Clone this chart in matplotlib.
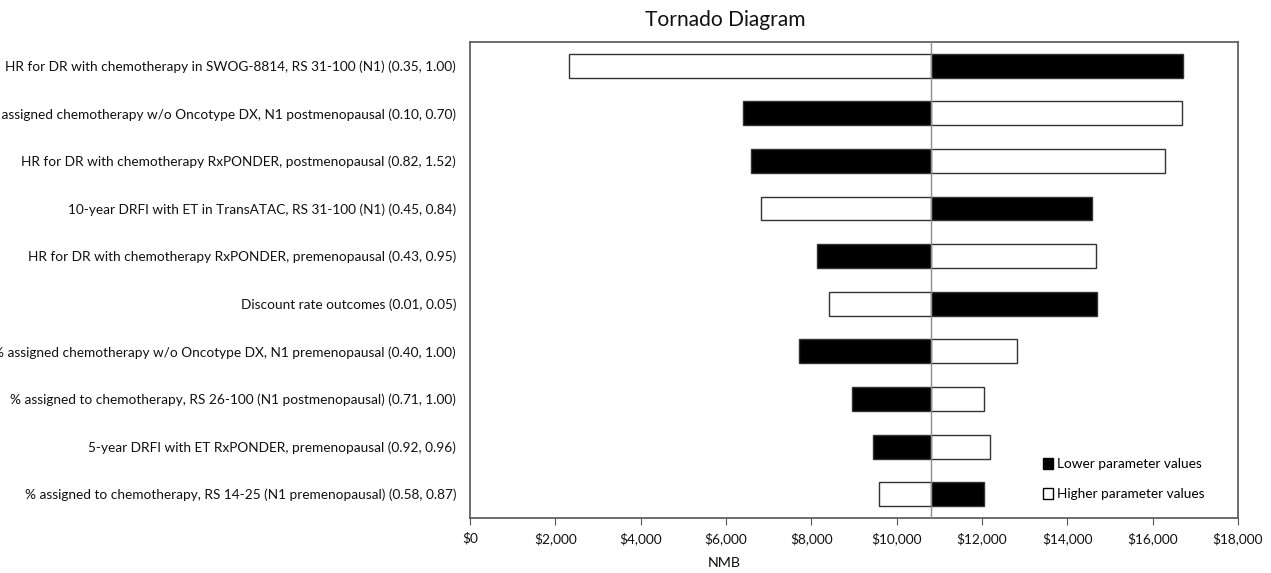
import matplotlib
matplotlib.use("Agg")
import matplotlib.pyplot as plt
from matplotlib.patches import Patch
import numpy as np

# Parameters (top to bottom) with their tested ranges
parameters = [
    "HR for DR with chemotherapy in SWOG-8814, RS 31-100 (N1) (0.35, 1.00)",
    "% assigned chemotherapy w/o Oncotype DX, N1 postmenopausal (0.10, 0.70)",
    "HR for DR with chemotherapy RxPONDER, postmenopausal (0.82, 1.52)",
    "10-year DRFI with ET in TransATAC, RS 31-100 (N1) (0.45, 0.84)",
    "HR for DR with chemotherapy RxPONDER, premenopausal (0.43, 0.95)",
    "Discount rate outcomes (0.01, 0.05)",
    "% assigned chemotherapy w/o Oncotype DX, N1 premenopausal (0.40, 1.00)",
    "% assigned to chemotherapy, RS 26-100 (N1 postmenopausal) (0.71, 1.00)",
    "5-year DRFI with ET RxPONDER, premenopausal (0.92, 0.96)",
    "% assigned to chemotherapy, RS 14-25 (N1 premenopausal) (0.58, 0.87)",
]

# Net monetary benefit at the lower / higher parameter value
nmb_low = [16710, 6410, 6590, 14580, 8140, 14690, 7710, 8960, 9440, 12040]
nmb_high = [2310, 16680, 16300, 6810, 14670, 8420, 12810, 12040, 12180, 9590]

# Base-case NMB
base_nmb = 10810

x_ticks = [0, 2000, 4000, 6000, 8000, 10000, 12000, 14000, 16000, 18000]

plt.rcParams["font.family"] = ["Lato", "DejaVu Sans"]

W, H = 1271, 573
fig = plt.figure(figsize=(W / 100, H / 100), dpi=100)
ax = fig.add_axes([470 / W, 1 - 518 / H, (1238 - 470) / W, (518 - 42) / H])

y = np.arange(len(parameters))
low = np.array(nmb_low, dtype=float)
high = np.array(nmb_high, dtype=float)
bar_h = 0.5

ax.barh(y, low - base_nmb, left=base_nmb, height=bar_h,
        color="black", edgecolor="#333333", linewidth=1.0, zorder=2)
ax.barh(y, high - base_nmb, left=base_nmb, height=bar_h,
        color="white", edgecolor="#333333", linewidth=1.0, zorder=2)

ax.axvline(base_nmb, color="#8c8c8c", linewidth=1.0, zorder=3)

ax.set_ylim(len(parameters) - 0.5, -0.5)
ax.set_xlim(0, 18000)
ax.set_yticks(y)
ax.set_yticklabels(parameters, fontsize=11, color="#111111")
ax.tick_params(axis="y", length=0, pad=10)

ax.set_xticks(x_ticks)
ax.set_xticklabels([f"${v:,.0f}" for v in x_ticks], color="#111111")
ax.tick_params(axis="x", direction="out", length=5, width=0.8, color="#555555", pad=5)

for side in ["top", "bottom", "left", "right"]:
    ax.spines[side].set_color("#555555")
    ax.spines[side].set_linewidth(1.2)

# Size the category labels so the first one spans about 448 px
fig.canvas.draw()
renderer = fig.canvas.get_renderer()
first = ax.get_yticklabels()[0]
w = first.get_window_extent(renderer).width
label_size = 11 * 448 / w
for t in ax.get_yticklabels():
    t.set_fontsize(label_size)
for t in ax.get_xticklabels():
    t.set_fontsize(label_size)

fig.text(724 / W, 1 - 563 / H, "NMB", ha="center", va="center",
         fontsize=label_size * 1.05, color="#111111")
fig.text(725 / W, 1 - 20 / H, "Tornado Diagram", ha="center", va="center",
         fontsize=label_size * 1.55, color="#111111")

handles = [
    Patch(facecolor="black", edgecolor="black", label="Lower parameter values"),
    Patch(facecolor="white", edgecolor="black", label="Higher parameter values"),
]
ax.legend(handles=handles, loc="center left", bbox_to_anchor=(1043 / W, 1 - 479 / H),
          bbox_transform=fig.transFigure, frameon=False, fontsize=label_size,
          handlelength=0.7, handleheight=0.9, handletextpad=0.3, labelspacing=1.3,
          borderaxespad=0, borderpad=0)

fig.savefig("out.png", dpi=100)
